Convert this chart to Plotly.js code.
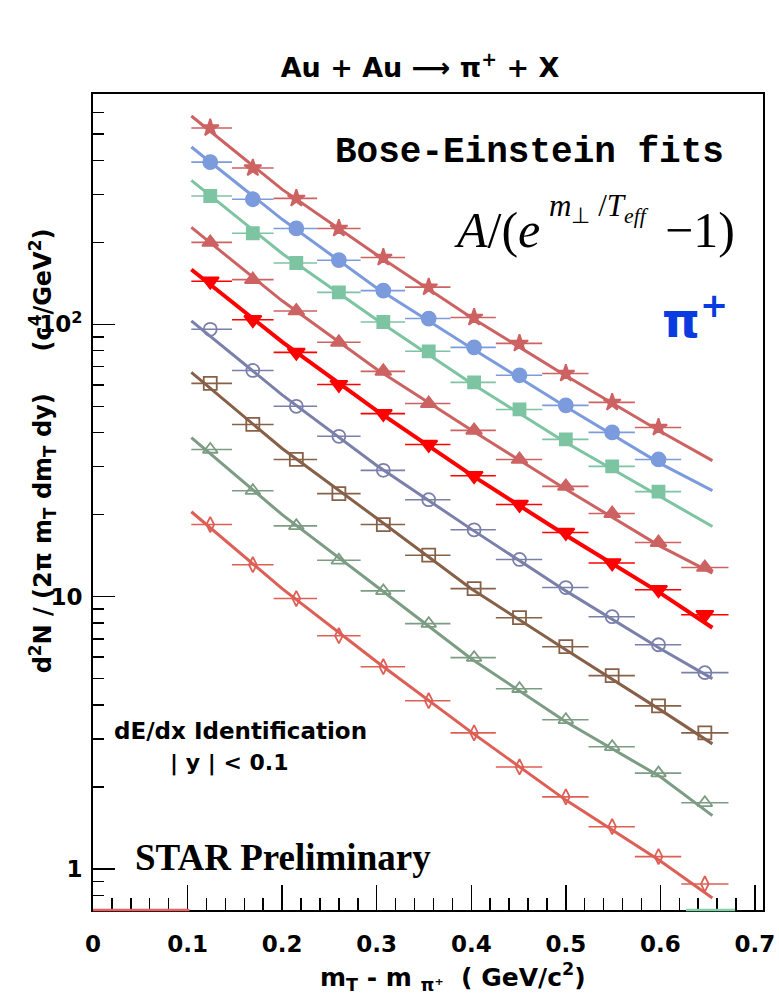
<!DOCTYPE html>
<html>
<head>
<meta charset="utf-8">
<script src="https://cdn.plot.ly/plotly-3.0.1.min.js"></script>
<style>html,body{margin:0;padding:0;background:#fff;}#plot{width:779px;height:1004px;}</style>
</head>
<body>
<div id="plot"></div>
<script>
// ---- data ----
const mtX   = [0.124, 0.169, 0.215, 0.260, 0.307, 0.355, 0.403, 0.451, 0.500, 0.549, 0.598, 0.647];
const binLo = [0.104, 0.147, 0.191, 0.237, 0.283, 0.330, 0.378, 0.426, 0.475, 0.524, 0.573, 0.622];
const binHi = [0.147, 0.191, 0.237, 0.283, 0.330, 0.378, 0.426, 0.475, 0.524, 0.573, 0.622, 0.672];

const s1 = [526, 375, 290, 225, 176, 137, 106, 85.1, 66.0, 51.7, 41.8];
const s2 = [394, 288, 225, 172, 133, 105, 82.3, 65.0, 50.4, 40.1, 31.9];
const s3 = [296, 216, 168, 131, 102, 79.6, 61.2, 48.7, 37.8, 30.1, 24.3];
const s4 = [200, 146, 112, 85.9, 67.2, 51.2, 40.8, 31.9, 25.4, 20.2, 15.8, 12.8];
const s5 = [144, 104, 78.9, 60.1, 47.0, 36.2, 27.8, 21.8, 17.2, 13.3, 10.6, 8.58];
const s6 = [95.9, 67.7, 50.0, 38.8, 29.1, 22.7, 17.6, 13.7, 10.8, 8.44, 6.66, 5.26];
const s7 = [60.7, 42.9, 31.9, 23.9, 18.4, 14.2, 10.7, 8.37, 6.55, 5.13, 3.97, 3.16];
const s8 = [34.7, 24.5, 18.2, 13.6, 10.5, 7.96, 5.97, 4.59, 3.53, 2.81, 2.25, 1.75];
const s9 = [18.4, 13.1, 9.84, 7.19, 5.53, 4.15, 3.16, 2.37, 1.84, 1.43, 1.11, 0.881];

// Bose-Einstein fit curves
const fitX = [0.104, 0.2, 0.3, 0.4, 0.5, 0.6, 0.655];
const fit1 = [582, 313, 180, 106, 64.7, 40.4, 31.6];
const fit2 = [448, 243, 136, 81.9, 49.8, 30.8, 24.5];
const fit3 = [338, 182, 104, 60.8, 36.8, 23.3, 18.1];
const fit4 = [227, 122, 68.4, 40.9, 24.8, 15.3, 12.2];
const fit5 = [159, 86.2, 48.2, 28.0, 16.8, 10.3, 7.69];
const fit6 = [103, 55.1, 30.3, 17.7, 10.5, 6.44, 5.0];
const fit7 = [66.6, 35.0, 19.4, 10.7, 6.38, 3.84, 2.88];
const fit8 = [38.4, 20.0, 10.9, 5.92, 3.47, 2.18, 1.57];
const fit9 = [20.5, 10.7, 5.77, 3.18, 1.79, 1.07, 0.782];

const yMajorVals = [1, 10, 100];
const yMajorText = ['1', '10', '10<sup>2</sup>'];
const yMinorVals = [0.8, 0.9, 2, 3, 4, 5, 6, 7, 8, 9, 20, 30, 40, 50, 60, 70, 80, 90, 200, 300, 400, 500, 600];
const xTickVals = [0, 0.1, 0.2, 0.3, 0.4, 0.5, 0.6, 0.7];

// ---- styles ----
const seriesDefs = [
  {y: s1, fit: fit1, color: '#cd6262', symbol: 'star', size: 13, lw: 3},
  {y: s2, fit: fit2, color: '#7b9bdc', symbol: 'circle', size: 14, lw: 3},
  {y: s3, fit: fit3, color: '#7cc4a2', symbol: 'square', size: 12, lw: 3},
  {y: s4, fit: fit4, color: '#cd6262', symbol: 'triangle-up', size: 14, lw: 3},
  {y: s5, fit: fit5, color: '#ff0000', symbol: 'triangle-down', size: 15, lw: 4},
  {y: s6, fit: fit6, color: '#7a80aa', symbol: 'circle-open', size: 13, lw: 3},
  {y: s7, fit: fit7, color: '#876048', symbol: 'square-open', size: 13, lw: 3},
  {y: s8, fit: fit8, color: '#7c9c84', symbol: 'triangle-up-open', size: 13, lw: 3},
  {y: s9, fit: fit9, color: '#dd5f55', symbol: 'diamond-tall-open', size: 11, lw: 3}
];

const traces = [];
seriesDefs.forEach(d => {
  traces.push({
    x: fitX, y: d.fit, mode: 'lines', type: 'scatter', showlegend: false,
    line: {color: d.color, width: d.lw}, hoverinfo: 'skip'
  });
});
seriesDefs.forEach(d => {
  const n = d.y.length;
  const xs = mtX.slice(0, n);
  traces.push({
    x: xs, y: d.y, mode: 'markers', type: 'scatter', showlegend: false,
    marker: {color: d.color, symbol: d.symbol, size: d.size, line: {color: d.color, width: 1.8}},
    error_x: {
      type: 'data', symmetric: false,
      array: binHi.slice(0, n).map((h, i) => h - xs[i]),
      arrayminus: binLo.slice(0, n).map((l, i) => xs[i] - l),
      color: d.color, thickness: 1.6, width: 0
    }
  });
});

const boldSans = {family: 'DejaVu Sans, Liberation Sans, Arial, sans-serif', color: '#000', weight: 'bold'};

const layout = {
  width: 779, height: 1004,
  margin: {l: 93, r: 16, t: 94, b: 94},
  paper_bgcolor: '#fff', plot_bgcolor: '#fff',
  showlegend: false,
  title: {text: 'Au + Au ⟶ π<sup>+</sup> + X', x: 0.488, xref: 'paper', xanchor: 'center',
          y: 1 - 68/1004, yanchor: 'middle',
          font: Object.assign({}, boldSans, {size: 27})},
  xaxis: {
    type: 'linear', range: [0, 0.7085],
    tickmode: 'array', tickvals: xTickVals, ticktext: xTickVals.map(v => String(v)),
    ticks: 'inside', ticklen: 25, tickwidth: 1.5, tickcolor: '#000',
    minor: {dtick: 0.02, tick0: 0, ticks: 'inside', ticklen: 12, tickwidth: 1.5, tickcolor: '#000'},
    showline: true, linecolor: '#000', linewidth: 2, mirror: true,
    showgrid: false, zeroline: false,
    ticklabelstandoff: 12,
    tickfont: Object.assign({}, boldSans, {size: 23})
  },
  yaxis: {
    type: 'log', range: [-0.1506, 2.8458],
    tickmode: 'array', tickvals: yMajorVals, ticktext: yMajorText,
    ticks: 'inside', ticklen: 22, tickwidth: 1.5, tickcolor: '#000',
    minor: {tickmode: 'array', tickvals: yMinorVals, ticks: 'inside', ticklen: 11, tickwidth: 1.5, tickcolor: '#000'},
    showline: true, linecolor: '#000', linewidth: 2, mirror: true,
    showgrid: false, zeroline: false,
    ticklabelstandoff: 4,
    tickfont: Object.assign({}, boldSans, {size: 23})
  },
  shapes: [
    {type: 'line', xref: 'x', yref: 'paper', x0: 0, x1: 0.102, y0: 0, y1: 0, line: {color: '#e86060', width: 2.5}},
    {type: 'line', xref: 'x', yref: 'paper', x0: 0.627, x1: 0.679, y0: 0, y1: 0, line: {color: '#80d0a8', width: 2.5}}
  ],
  annotations: [
    {text: 'Bose-Einstein fits', xref: 'paper', yref: 'paper', x: 0.652, y: 0.928, xanchor: 'center', yanchor: 'middle',
     showarrow: false, font: {family: 'Liberation Mono, Courier New, monospace', size: 36, color: '#000', weight: 'bold'}},
    {text: '<i>A</i>/(<i>e</i>', xref: 'paper', yref: 'paper', x: 0.536, y: 0.833, xanchor: 'left', yanchor: 'middle',
     showarrow: false, font: {family: 'Liberation Serif, Times New Roman, serif', size: 50, color: '#000'}},
    {text: '<i>m</i><sub>⊥</sub> /<i>T<sub>eff</sub></i>', xref: 'paper', yref: 'paper', x: 0.677, y: 0.860, xanchor: 'left', yanchor: 'middle',
     showarrow: false, font: {family: 'Liberation Serif, Times New Roman, serif', size: 31, color: '#000'}},
    {text: '−1)', xref: 'paper', yref: 'paper', x: 0.851, y: 0.833, xanchor: 'left', yanchor: 'middle',
     showarrow: false, font: {family: 'Liberation Serif, Times New Roman, serif', size: 50, color: '#000'}},
    {text: 'π<sup>+</sup>', xref: 'paper', yref: 'paper', x: 0.899, y: 0.727, xanchor: 'center', yanchor: 'middle',
     showarrow: false, font: {family: 'DejaVu Sans, Liberation Sans, sans-serif', size: 48, color: '#0a3be0', weight: 'bold'}},
    {text: 'dE/dx Identification', xref: 'paper', yref: 'paper', x: 0.028, y: 0.219, xanchor: 'left', yanchor: 'middle',
     showarrow: false, font: Object.assign({}, boldSans, {size: 23})},
    {text: '| y | < 0.1', xref: 'paper', yref: 'paper', x: 0.112, y: 0.180, xanchor: 'left', yanchor: 'middle',
     showarrow: false, font: Object.assign({}, boldSans, {size: 22})},
    {text: 'STAR Preliminary', xref: 'paper', yref: 'paper', x: 0.060, y: 0.064, xanchor: 'left', yanchor: 'middle',
     showarrow: false, font: {family: 'Liberation Serif, Times New Roman, serif', size: 37, color: '#000', weight: 'bold'}},
    {text: 'd<sup>2</sup>N / (2π m<sub>T</sub> dm<sub>T</sub> dy)     (c<sup>4</sup>/GeV<sup>2</sup>)', xref: 'paper', yref: 'paper',
     x: -0.075, y: 0.563, xanchor: 'center', yanchor: 'middle', textangle: -90,
     showarrow: false, font: Object.assign({}, boldSans, {size: 24})},
    {text: 'm<sub>T</sub> - m <sub>π⁺</sub>  ( GeV/c<sup>2</sup>)', xref: 'paper', yref: 'paper', x: 0.537, y: -0.082,
     xanchor: 'center', yanchor: 'middle', showarrow: false, font: Object.assign({}, boldSans, {size: 25})}
  ]
};

Plotly.newPlot('plot', traces, layout, {staticPlot: true, displayModeBar: false});
</script>
</body>
</html>
